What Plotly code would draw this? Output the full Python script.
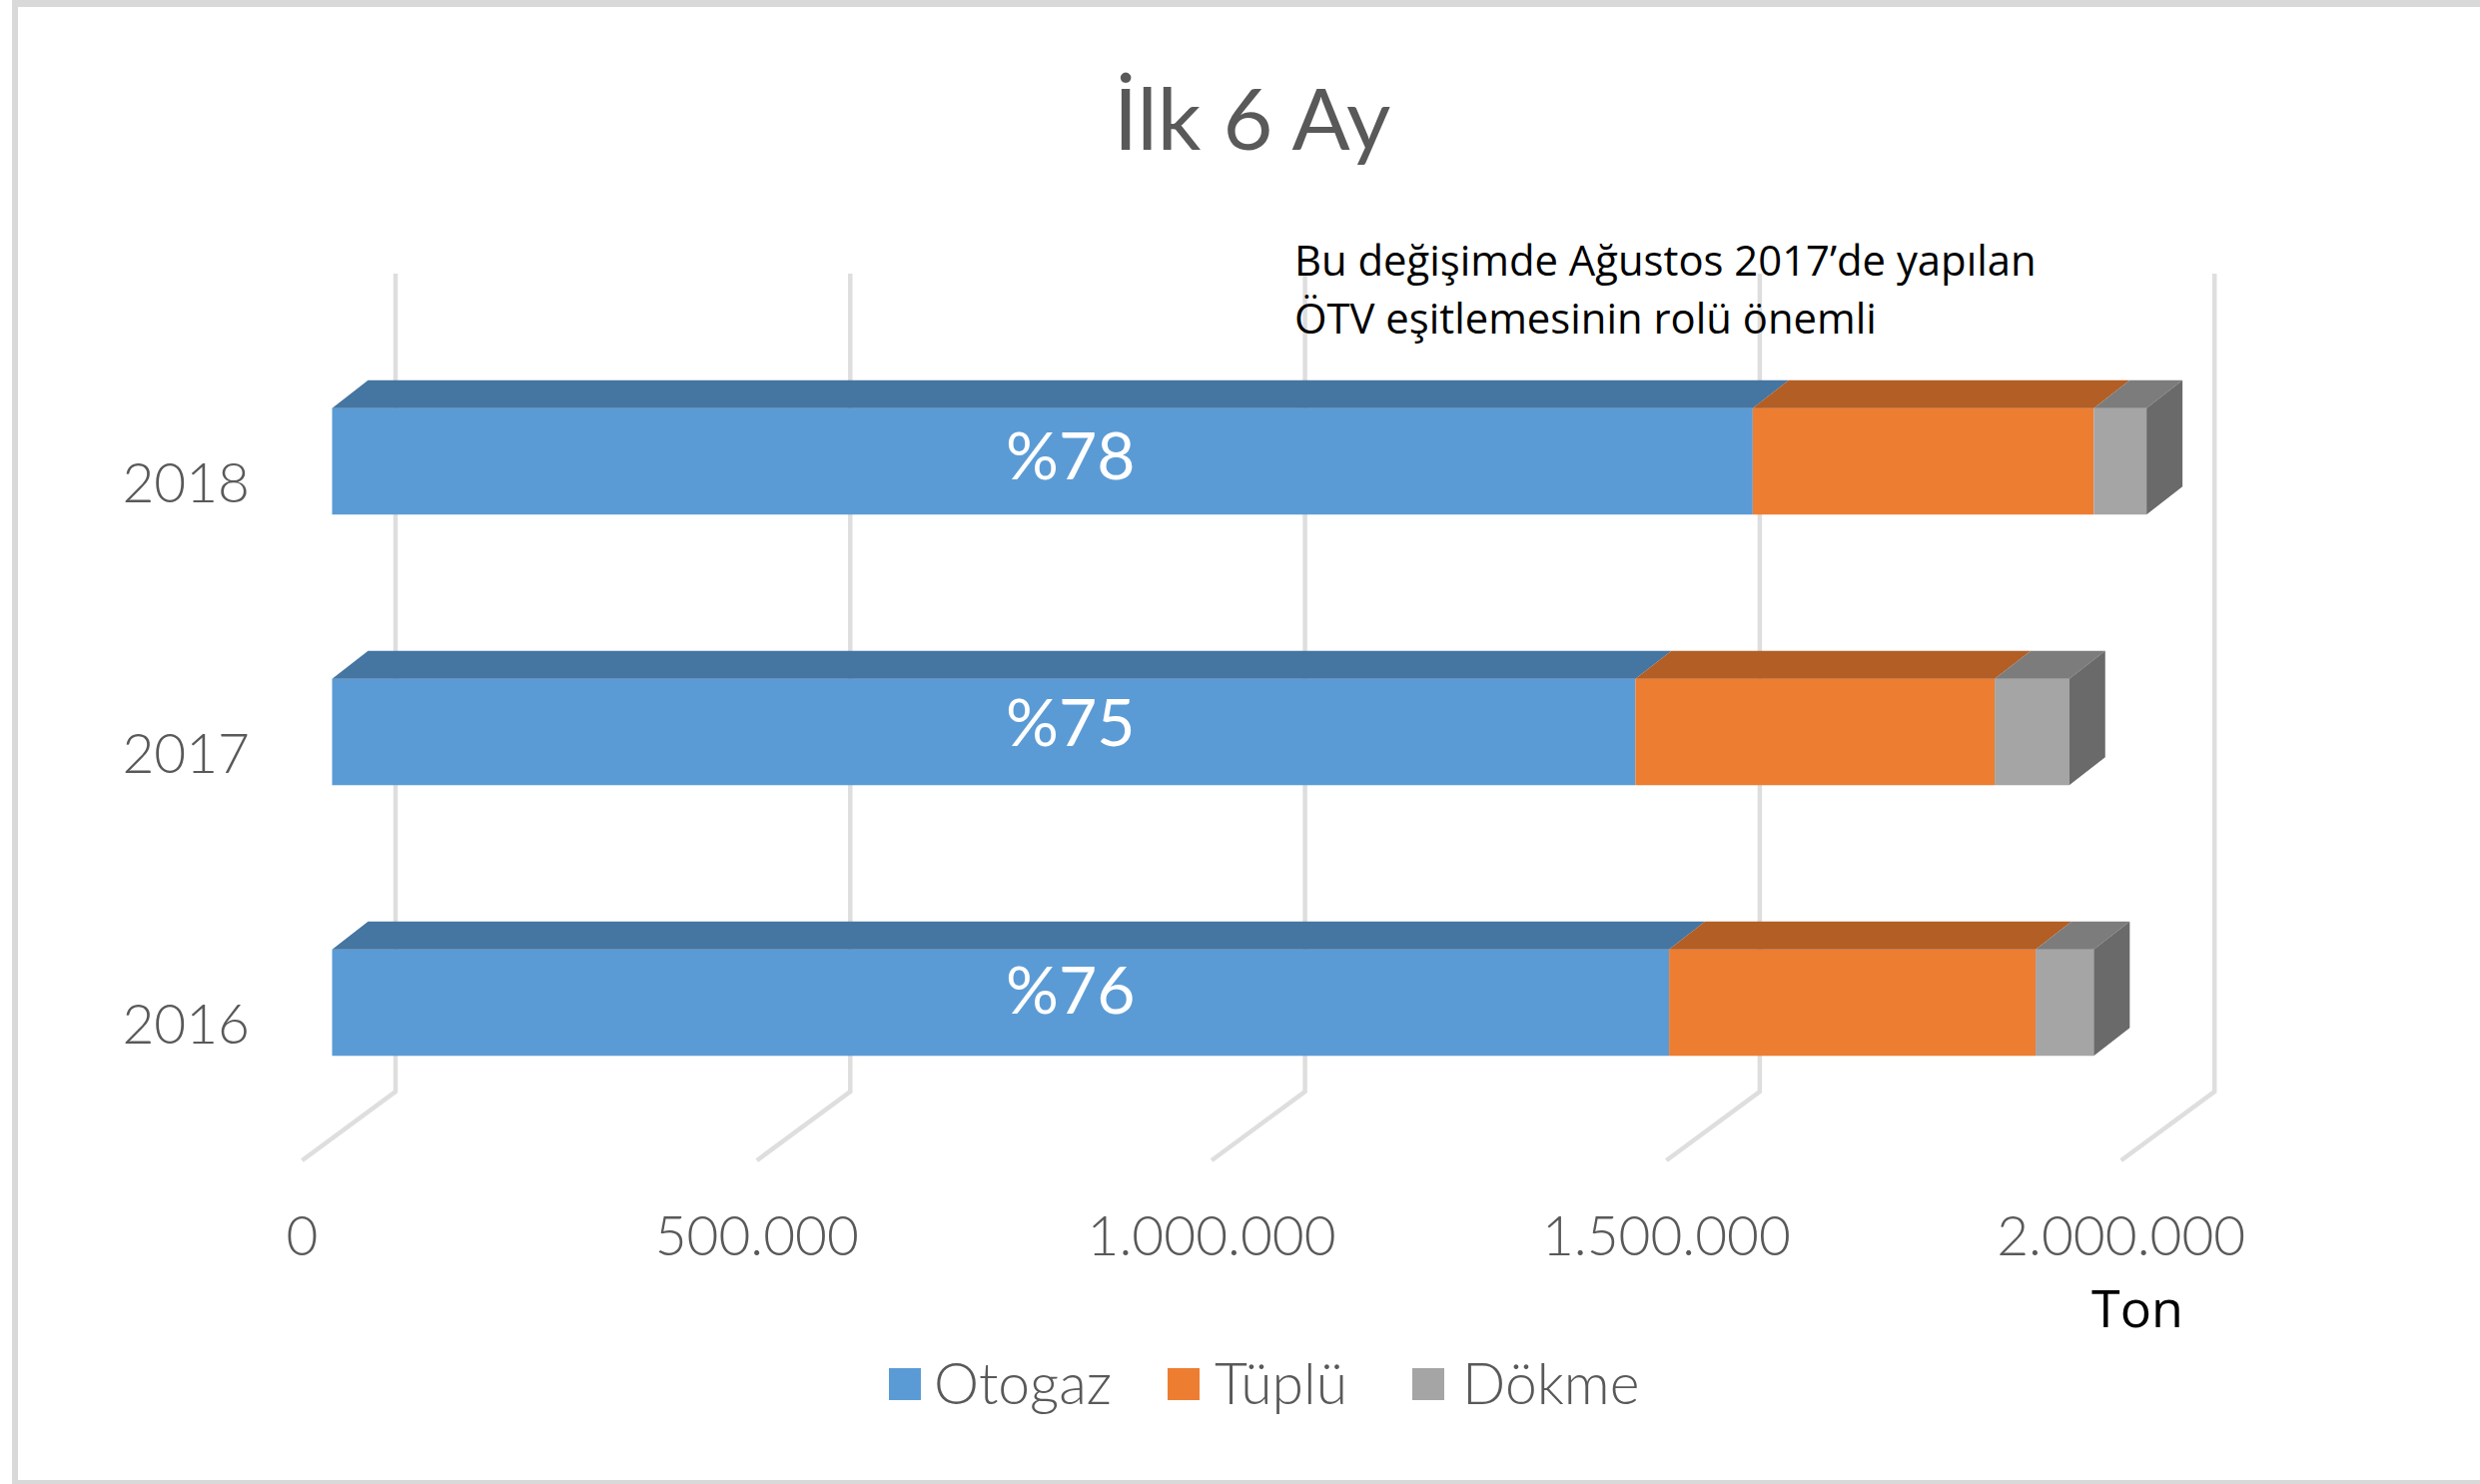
import plotly.graph_objects as go

# ---------- data ----------
years = [2016, 2017, 2018]
otogaz = [1470000, 1433000, 1562000]
tuplu = [403000, 395000, 375000]
dokme = [64000, 82000, 58000]
shares = ["%76", "%75", "%78"]
series_names = ["Otogaz", "Tüplü", "Dökme"]
x_ticks = [0, 500000, 1000000, 1500000, 2000000]
title_text = "İlk 6 Ay"
note_lines = ["Bu değişimde Ağustos 2017’de yapılan", "ÖTV eşitlemesinin rolü önemli"]
unit_text = "Ton"

# ---------- layout geometry (pixels) ----------
W, H = 2483, 1486
L, R, T, B = 262, 2300, 200, 1170
K = 455.3 / 500000      # px per ton
U = 271.0               # px per category
FRONT_X0, FRONT_Y0 = 302.5, 1026   # front plane: value 0, 2016 centre
BAR_X0, BAR_Y0 = 332.5, 1004     # bar plane: value 0, 2016 centre
BAR_H = 106.5 / U
DX, DY = 36 / K, 28 / U          # bar depth in axis units
FLOOR_FRONT, FLOOR_BACK, WALL_TOP = 1162, 1093, 274
WALL_DX = 93.5 / K

FRONT = ["#5B9BD5", "#ED7D31", "#A5A5A5"]
TOPS = ["#4575A1", "#B25E25", "#7C7C7C"]
SIDE = "#6A6A6A"
GRID = "#DEDEDE"
GRAY = "#595959"
FONT = "Lato"
LIGHT = 300

px = lambda x: (x - L) / (R - L)
py = lambda y: (B - y) / (B - T)
ydata = lambda y: years[0] + (FRONT_Y0 - y) / U

fig = go.Figure()

# gridlines: floor + back wall, on the front-plane axes
for t in x_ticks:
    fig.add_trace(go.Scatter(
        x=[t, t + WALL_DX, t + WALL_DX],
        y=[ydata(FLOOR_FRONT), ydata(FLOOR_BACK), ydata(WALL_TOP)],
        mode="lines", line=dict(color=GRID, width=4.5),
        showlegend=False, hoverinfo="skip", xaxis="x", yaxis="y"))

# bars
stacks = [otogaz, tuplu, dokme]
bases = [[0] * 3, otogaz, [a + b for a, b in zip(otogaz, tuplu)]]
for i, vals in enumerate(stacks):
    fig.add_trace(go.Bar(
        y=years, x=vals, base=bases[i], orientation="h", width=BAR_H,
        name=series_names[i], marker=dict(color=FRONT[i], line=dict(width=0)),
        showlegend=False, hoverinfo="skip", xaxis="x2", yaxis="y2"))

# top faces
for i, vals in enumerate(stacks):
    xs, ys = [], []
    for y, b, v in zip(years, bases[i], vals):
        top = y + BAR_H / 2
        xs += [b, b + v, b + v + DX, b + DX, b, None]
        ys += [top, top, top + DY, top + DY, top, None]
    fig.add_trace(go.Scatter(
        x=xs, y=ys, mode="lines", fill="toself", fillcolor=TOPS[i],
        line=dict(width=0), showlegend=False, hoverinfo="skip",
        xaxis="x2", yaxis="y2"))

# side faces
xs, ys = [], []
for y, b, v in zip(years, bases[2], dokme):
    e = b + v
    xs += [e, e + DX, e + DX, e, e, None]
    ys += [y + BAR_H / 2, y + BAR_H / 2 + DY, y - BAR_H / 2 + DY, y - BAR_H / 2, y + BAR_H / 2, None]
fig.add_trace(go.Scatter(
    x=xs, y=ys, mode="lines", fill="toself", fillcolor=SIDE,
    line=dict(width=0), showlegend=False, hoverinfo="skip",
    xaxis="x2", yaxis="y2"))

ann = []
# share labels
for y, s, shift in zip(years, shares, [15, 12, 8]):
    ann.append(dict(x=812000, y=y, xref="x2", yref="y2", text=s, showarrow=False,
                    xanchor="center", yanchor="middle", yshift=shift,
                    font=dict(family=FONT, size=66, color="white")))
# title
ann.append(dict(x=px(1253), y=py(116), xref="paper", yref="paper", text=title_text,
                showarrow=False, xanchor="center", yanchor="middle",
                font=dict(family=FONT, size=86, color=GRAY)))
# note
for line, yy in zip(note_lines, [259, 317]):
    ann.append(dict(x=px(1294), y=py(yy), xref="paper", yref="paper", text=line, xanchor="left",
                    yanchor="middle", showarrow=False,
                    font=dict(family="Open Sans", size=41.8, color="black")))
# unit
ann.append(dict(x=px(2140), y=py(1308), xref="paper", yref="paper", text=unit_text,
                showarrow=False, xanchor="center", yanchor="middle",
                font=dict(family="Open Sans", size=52, color="black")))

# legend
shapes = []
for name, col, sx, tx in zip(series_names, FRONT, [890, 1169, 1414], [933, 1214, 1462]):
    shapes.append(dict(type="rect", xref="paper", yref="paper",
                       x0=px(sx), x1=px(sx + 32), y0=py(1370), y1=py(1402),
                       fillcolor=col, line=dict(width=0)))
    ann.append(dict(x=px(tx), y=py(1384), xref="paper", yref="paper", text=name, xanchor="left",
                    yanchor="middle", showarrow=False,
                    font=dict(family=FONT, size=57, color=GRAY, weight=LIGHT)))

# outer border
for x0, x1, y0, y1 in [(12, 18, 0, H), (12, W, 0, 7), (12, W, H - 4, H)]:
    shapes.append(dict(type="rect", xref="paper", yref="paper", layer="below",
                       x0=px(x0), x1=px(x1), y0=py(y0), y1=py(y1),
                       fillcolor="#D9D9D9", line=dict(width=0)))

hidden = dict(visible=False, showgrid=False, zeroline=False)
tick_font = dict(family=FONT, size=55, color=GRAY, weight=LIGHT)
fig.update_layout(
    width=W, height=H, autosize=False,
    margin=dict(l=L, r=W - R, t=T, b=H - B, pad=0),
    paper_bgcolor="white", plot_bgcolor="rgba(0,0,0,0)",
    barmode="overlay", separators=",.", showlegend=False, hovermode=False,
    annotations=ann, shapes=shapes,
    xaxis=dict(range=[(L - FRONT_X0) / K, (R - FRONT_X0) / K], tickvals=x_ticks, tickformat=",d",
               showgrid=False, zeroline=False, showline=False, ticks="",
               ticklabelstandoff=31, tickfont=tick_font),
    yaxis=dict(range=[years[0] + (FRONT_Y0 - B) / U, years[0] + (FRONT_Y0 - T) / U],
               tickvals=years, tickformat="d", showgrid=False, zeroline=False, showline=False,
               ticks="", ticklabelstandoff=11, tickfont=tick_font),
    xaxis2=dict(range=[(L - BAR_X0) / K, (R - BAR_X0) / K], overlaying="x", anchor="y2", **hidden),
    yaxis2=dict(range=[years[0] + (BAR_Y0 - B) / U, years[0] + (BAR_Y0 - T) / U],
                overlaying="y", anchor="x2", **hidden),
)

fig.write_html("out.html", config={"displayModeBar": False},
               post_script="document.body.style.margin='0';")
